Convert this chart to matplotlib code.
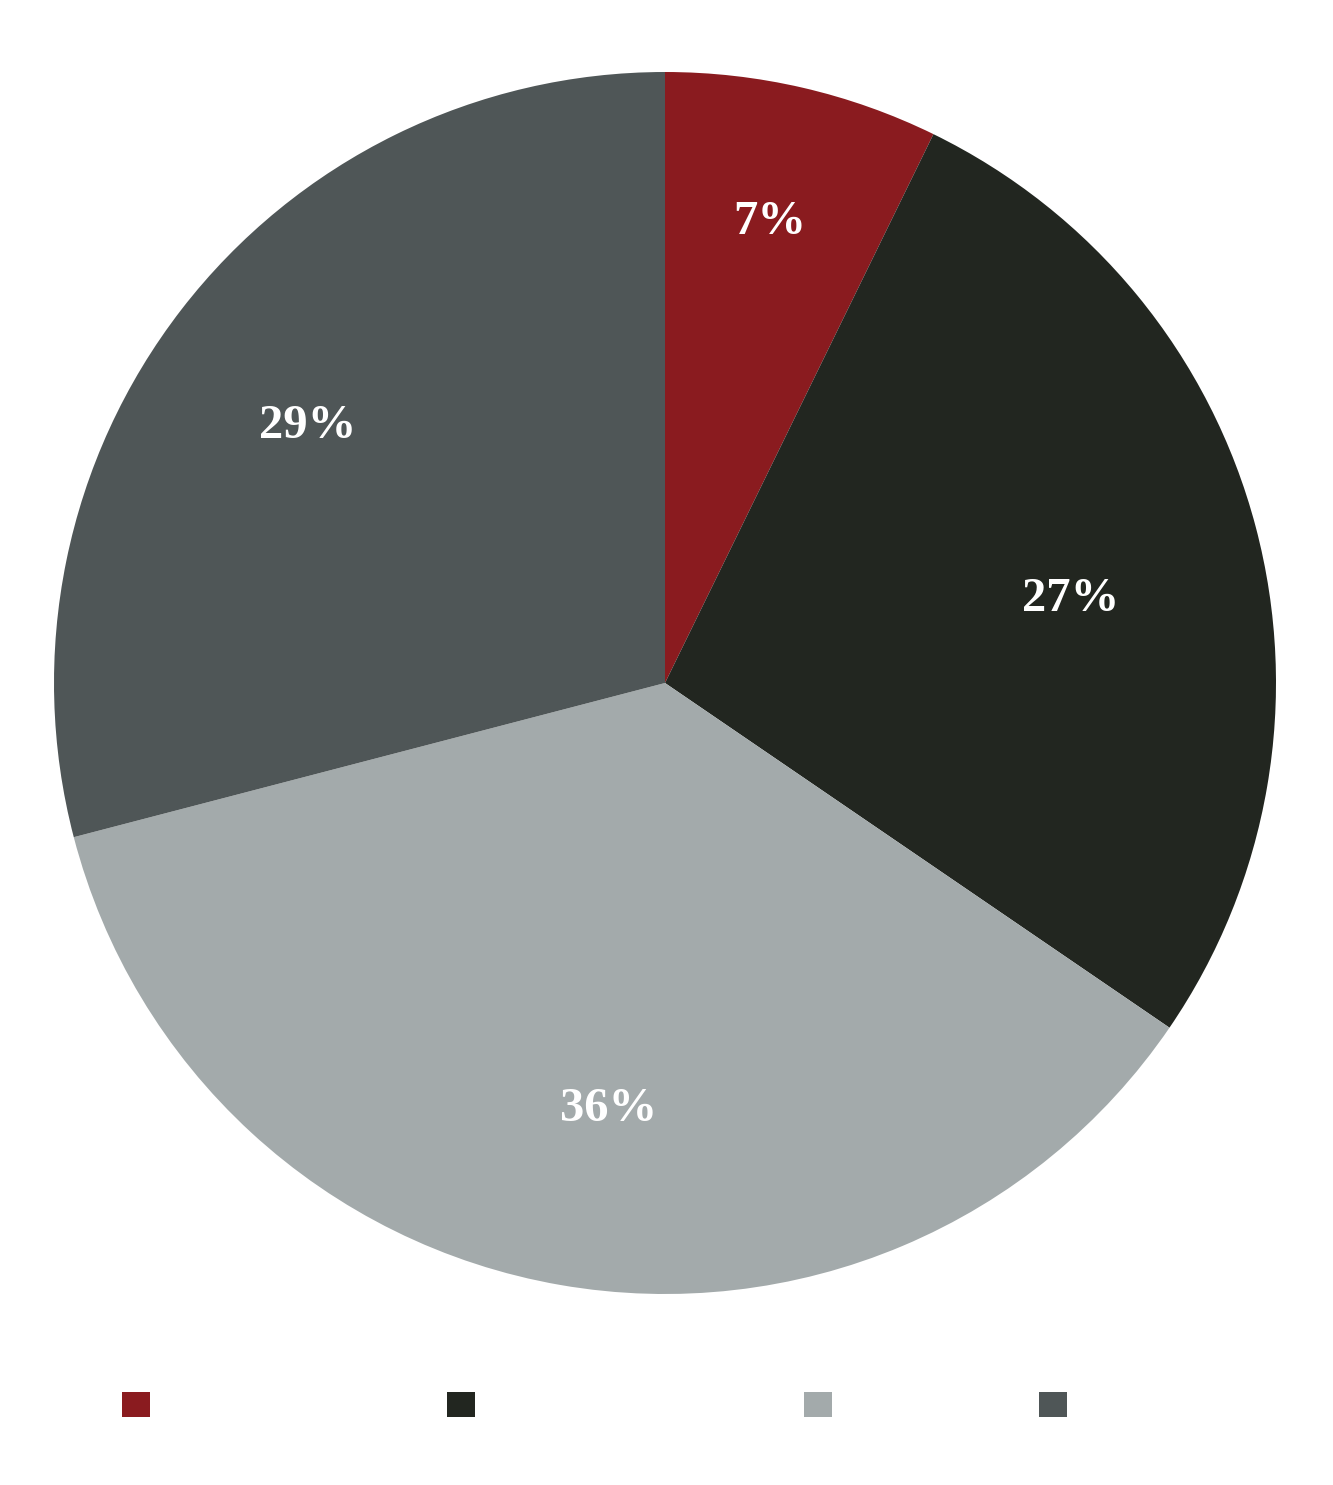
import numpy as np
import matplotlib.pyplot as plt
from matplotlib.patches import Patch

# datos
shares = [7.24, 27.3, 36.4, 29.06]
colors = ['#8a1b1f', '#222620', '#a3aaab', '#4f5657']
label_r = [0.774, 0.678, 0.704, 0.720]
label_ang = [77.2, 11.7, -97.5, 144.3]
legend_x = [122, 447, 804, 1039]

fig = plt.figure(figsize=(13.33, 14.85), dpi=100)
ax = fig.add_axes([54 / 1333, (1485 - 1294) / 1485, 1222 / 1333, 1222 / 1485])

wedges, texts, autotexts = ax.pie(
    shares, colors=colors, startangle=90, counterclock=False,
    autopct='%.0f%%', pctdistance=0.7,
    wedgeprops=dict(linewidth=0),
    textprops=dict(color='white', fontsize=35, fontweight='bold',
                   family='Liberation Serif'))

# colocar cada etiqueta como en el original
for t, r, a in zip(autotexts, label_r, label_ang):
    ang = np.deg2rad(a)
    t.set_position((r * np.cos(ang), r * np.sin(ang)))

ax.set_xlim(-1, 1)
ax.set_ylim(-1, 1)
ax.set_aspect('equal')
ax.axis('off')

# leyenda: solo cuadros de color
for c, x in zip(colors, legend_x):
    fig.legend(handles=[Patch(facecolor=c)], labels=[''],
               loc='center left', bbox_to_anchor=(x / 1333, 1 - 1406 / 1485),
               frameon=False, fontsize=20, handlelength=1, handleheight=1,
               borderpad=0, borderaxespad=0, handletextpad=0)

fig.savefig('out.png', dpi=100)
